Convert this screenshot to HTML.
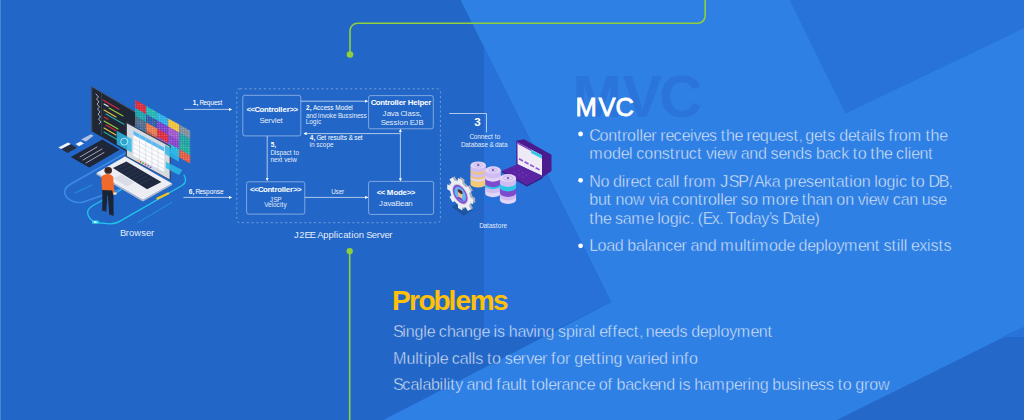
<!DOCTYPE html>
<html><head><meta charset="utf-8">
<style>
html,body{margin:0;padding:0;width:1024px;height:420px;overflow:hidden;background:#2e80e4;}
svg{display:block;font-family:"Liberation Sans",sans-serif;}
.w{fill:#fff}
.t{fill:#e4eefb}
</style></head>
<body>
<svg width="1024" height="420" viewBox="0 0 1024 420">
<!-- background -->
<rect x="0" y="0" width="1024" height="420" fill="#2e80e4"/>
<polygon points="0,0 460.6,0 611,302 383.5,420 0,420" fill="#2267c8"/>
<rect x="0" y="0" width="1" height="420" fill="#4a86d6"/>
<polygon points="484,47 611,302 541,336.5 484,336.5" fill="#2771d8"/>
<polygon points="789.5,0 1024,0 1024,28.3 845.5,113.5" fill="#2873da"/>
<polygon points="837,420 1024,327 1024,420" fill="#2468c9"/>
<polygon points="1002,337 1024,327 1024,337" fill="#2873da"/>

<!-- green lines -->
<g stroke="#8ed03c" stroke-width="1.6" fill="none">
<path d="M705.2,0 V15.8 a7.5,7.5 0 0 1 -7.5,7.5 H357.5 a7.5,7.5 0 0 0 -7.5,7.5 V54.5"/>
<path d="M349.7,251 V420"/>
</g>
<circle cx="350" cy="54.5" r="3.3" fill="#8ed03c"/>
<circle cx="349.7" cy="251.1" r="3.2" fill="#8ed03c"/>

<!--TEXT-->
<g font-size="59.4" font-weight="bold" fill="#2a74da"><text y="117.10" lengthAdjust="spacingAndGlyphs"><tspan x="572.60" textLength="49.91">M</tspan><tspan x="622.49" textLength="36.89">V</tspan><tspan x="659.37" textLength="37.31">C</tspan></text></g>
<g font-size="25.6" fill="#fff" stroke="#fff" stroke-width="0.8"><text y="115.80" lengthAdjust="spacingAndGlyphs"><tspan x="575.50" textLength="23.09">M</tspan><tspan x="598.58" textLength="16.88">V</tspan><tspan x="615.44" textLength="17.25">C</tspan></text></g>
<g fill="#fff">
<circle cx="580.6" cy="134.0" r="2.4"/>
<circle cx="580.6" cy="180.3" r="2.4"/>
<circle cx="580.6" cy="245.8" r="2.4"/>
</g>
<g fill="#ffffff" fill-opacity="0.87" stroke="#2e80e4" stroke-width="0.45" font-size="16.1">
<text y="140.50" lengthAdjust="spacingAndGlyphs"><tspan x="589.20" textLength="10.23">C</tspan><tspan x="599.42" textLength="8.84">o</tspan><tspan x="608.25" textLength="8.67">n</tspan><tspan x="616.90" textLength="5.09">t</tspan><tspan x="621.98" textLength="5.16">r</tspan><tspan x="627.12" textLength="8.84">o</tspan><tspan x="635.95" textLength="3.56">l</tspan><tspan x="639.50" textLength="3.55">l</tspan><tspan x="643.03" textLength="8.17">e</tspan><tspan x="651.18" textLength="5.31">r</tspan><tspan x="660.33" textLength="5.17">r</tspan><tspan x="665.48" textLength="8.16">e</tspan><tspan x="673.62" textLength="8.14">c</tspan><tspan x="681.75" textLength="8.16">e</tspan><tspan x="689.89" textLength="3.56">i</tspan><tspan x="693.43" textLength="7.48">v</tspan><tspan x="700.90" textLength="8.16">e</tspan><tspan x="709.04" textLength="8.00">s</tspan><tspan x="720.87" textLength="5.08">t</tspan><tspan x="725.93" textLength="8.67">h</tspan><tspan x="734.59" textLength="8.16">e</tspan><tspan x="746.58" textLength="5.17">r</tspan><tspan x="751.73" textLength="8.16">e</tspan><tspan x="759.87" textLength="8.81">q</tspan><tspan x="768.67" textLength="8.66">u</tspan><tspan x="777.31" textLength="8.17">e</tspan><tspan x="785.47" textLength="8.00">s</tspan><tspan x="793.45" textLength="5.08">t</tspan><tspan x="798.51" textLength="3.03">,</tspan><tspan x="805.37" textLength="8.77">g</tspan><tspan x="814.12" textLength="8.16">e</tspan><tspan x="822.26" textLength="5.08">t</tspan><tspan x="827.33" textLength="8.00">s</tspan><tspan x="839.15" textLength="8.77">d</tspan><tspan x="847.90" textLength="8.16">e</tspan><tspan x="856.04" textLength="5.08">t</tspan><tspan x="861.11" textLength="8.47">a</tspan><tspan x="869.56" textLength="3.55">i</tspan><tspan x="873.09" textLength="3.55">l</tspan><tspan x="876.64" textLength="7.98">s</tspan><tspan x="888.45" textLength="5.23">f</tspan><tspan x="893.67" textLength="5.17">r</tspan><tspan x="898.83" textLength="8.84">o</tspan><tspan x="907.65" textLength="13.98">m</tspan><tspan x="925.45" textLength="5.09">t</tspan><tspan x="930.53" textLength="8.66">h</tspan><tspan x="939.17" textLength="8.17">e</tspan></text>
<text y="159.20" lengthAdjust="spacingAndGlyphs"><tspan x="589.20" textLength="13.97">m</tspan><tspan x="603.15" textLength="8.84">o</tspan><tspan x="611.98" textLength="8.77">d</tspan><tspan x="620.73" textLength="8.17">e</tspan><tspan x="628.89" textLength="3.55">l</tspan><tspan x="636.26" textLength="8.12">c</tspan><tspan x="644.37" textLength="8.84">o</tspan><tspan x="653.20" textLength="8.69">n</tspan><tspan x="661.87" textLength="8.00">s</tspan><tspan x="669.86" textLength="5.08">t</tspan><tspan x="674.92" textLength="5.33">r</tspan><tspan x="680.23" textLength="8.66">u</tspan><tspan x="688.87" textLength="8.14">c</tspan><tspan x="697.00" textLength="5.08">t</tspan><tspan x="705.90" textLength="7.59">v</tspan><tspan x="713.48" textLength="3.55">i</tspan><tspan x="717.01" textLength="8.16">e</tspan><tspan x="725.15" textLength="11.91">w</tspan><tspan x="740.87" textLength="8.47">a</tspan><tspan x="749.33" textLength="8.67">n</tspan><tspan x="757.98" textLength="8.77">d</tspan><tspan x="770.58" textLength="8.00">s</tspan><tspan x="778.56" textLength="8.16">e</tspan><tspan x="786.70" textLength="8.67">n</tspan><tspan x="795.36" textLength="8.77">d</tspan><tspan x="804.11" textLength="8.00">s</tspan><tspan x="815.93" textLength="8.75">b</tspan><tspan x="824.67" textLength="8.45">a</tspan><tspan x="833.11" textLength="8.14">c</tspan><tspan x="841.23" textLength="7.73">k</tspan><tspan x="852.79" textLength="4.92">t</tspan><tspan x="857.70" textLength="8.84">o</tspan><tspan x="870.37" textLength="5.08">t</tspan><tspan x="875.43" textLength="8.67">h</tspan><tspan x="884.09" textLength="8.16">e</tspan><tspan x="896.08" textLength="8.12">c</tspan><tspan x="904.20" textLength="3.55">l</tspan><tspan x="907.73" textLength="3.55">i</tspan><tspan x="911.26" textLength="8.17">e</tspan><tspan x="919.42" textLength="8.67">n</tspan><tspan x="928.08" textLength="5.08">t</tspan></text>
<text y="186.50" lengthAdjust="spacingAndGlyphs"><tspan x="589.20" textLength="11.20">N</tspan><tspan x="600.39" textLength="8.84">o</tspan><tspan x="613.04" textLength="8.77">d</tspan><tspan x="621.79" textLength="3.56">i</tspan><tspan x="625.34" textLength="5.17">r</tspan><tspan x="630.50" textLength="8.16">e</tspan><tspan x="638.64" textLength="8.14">c</tspan><tspan x="646.76" textLength="5.08">t</tspan><tspan x="655.67" textLength="8.14">c</tspan><tspan x="663.79" textLength="8.45">a</tspan><tspan x="672.23" textLength="3.56">l</tspan><tspan x="675.78" textLength="3.55">l</tspan><tspan x="683.15" textLength="5.23">f</tspan><tspan x="688.37" textLength="5.17">r</tspan><tspan x="693.53" textLength="8.84">o</tspan><tspan x="702.36" textLength="13.97">m</tspan><tspan x="720.15" textLength="8.69">J</tspan><tspan x="728.83" textLength="9.36">S</tspan><tspan x="738.17" textLength="9.70">P</tspan><tspan x="748.86" textLength="6.88">/</tspan><tspan x="754.12" textLength="9.86">A</tspan><tspan x="763.97" textLength="7.73">k</tspan><tspan x="771.68" textLength="8.47">a</tspan><tspan x="783.97" textLength="8.75">p</tspan><tspan x="792.70" textLength="5.19">r</tspan><tspan x="797.87" textLength="8.16">e</tspan><tspan x="806.01" textLength="8.00">s</tspan><tspan x="814.00" textLength="8.16">e</tspan><tspan x="822.14" textLength="8.67">n</tspan><tspan x="830.79" textLength="5.08">t</tspan><tspan x="835.86" textLength="8.47">a</tspan><tspan x="844.31" textLength="5.08">t</tspan><tspan x="849.37" textLength="3.56">i</tspan><tspan x="852.92" textLength="8.84">o</tspan><tspan x="861.75" textLength="8.67">n</tspan><tspan x="874.23" textLength="3.56">l</tspan><tspan x="877.78" textLength="8.84">o</tspan><tspan x="886.61" textLength="8.75">g</tspan><tspan x="895.34" textLength="3.56">i</tspan><tspan x="898.89" textLength="8.14">c</tspan><tspan x="910.84" textLength="4.94">t</tspan><tspan x="915.76" textLength="8.84">o</tspan><tspan x="928.42" textLength="10.34">D</tspan><tspan x="938.75" textLength="9.67">B</tspan><tspan x="948.40" textLength="3.05">,</tspan></text>
<text y="205.20" lengthAdjust="spacingAndGlyphs"><tspan x="589.20" textLength="8.75">b</tspan><tspan x="597.93" textLength="8.66">u</tspan><tspan x="606.58" textLength="5.09">t</tspan><tspan x="615.48" textLength="8.67">n</tspan><tspan x="624.14" textLength="8.86">o</tspan><tspan x="632.98" textLength="11.89">w</tspan><tspan x="648.70" textLength="7.58">v</tspan><tspan x="656.26" textLength="3.56">i</tspan><tspan x="659.81" textLength="8.45">a</tspan><tspan x="672.09" textLength="8.14">c</tspan><tspan x="680.22" textLength="8.84">o</tspan><tspan x="689.04" textLength="8.67">n</tspan><tspan x="697.70" textLength="5.08">t</tspan><tspan x="702.76" textLength="5.17">r</tspan><tspan x="707.92" textLength="8.84">o</tspan><tspan x="716.75" textLength="3.55">l</tspan><tspan x="720.28" textLength="3.56">l</tspan><tspan x="723.83" textLength="8.16">e</tspan><tspan x="731.97" textLength="5.33">r</tspan><tspan x="741.11" textLength="8.00">s</tspan><tspan x="749.09" textLength="8.84">o</tspan><tspan x="761.76" textLength="13.98">m</tspan><tspan x="775.73" textLength="8.84">o</tspan><tspan x="784.56" textLength="5.17">r</tspan><tspan x="789.72" textLength="8.16">e</tspan><tspan x="801.70" textLength="5.08">t</tspan><tspan x="806.76" textLength="8.67">h</tspan><tspan x="815.42" textLength="8.45">a</tspan><tspan x="823.86" textLength="8.67">n</tspan><tspan x="836.36" textLength="8.84">o</tspan><tspan x="845.18" textLength="8.67">n</tspan><tspan x="857.68" textLength="7.59">v</tspan><tspan x="865.26" textLength="3.55">i</tspan><tspan x="868.79" textLength="8.16">e</tspan><tspan x="876.93" textLength="11.91">w</tspan><tspan x="892.65" textLength="8.14">c</tspan><tspan x="900.78" textLength="8.45">a</tspan><tspan x="909.22" textLength="8.69">n</tspan><tspan x="921.72" textLength="8.67">u</tspan><tspan x="930.37" textLength="8.00">s</tspan><tspan x="938.36" textLength="8.16">e</tspan></text>
<text y="223.90" lengthAdjust="spacingAndGlyphs"><tspan x="589.20" textLength="5.08">t</tspan><tspan x="594.26" textLength="8.67">h</tspan><tspan x="602.92" textLength="8.16">e</tspan><tspan x="614.89" textLength="8.00">s</tspan><tspan x="622.87" textLength="8.47">a</tspan><tspan x="631.33" textLength="13.98">m</tspan><tspan x="645.29" textLength="8.16">e</tspan><tspan x="657.26" textLength="3.56">l</tspan><tspan x="660.81" textLength="8.84">o</tspan><tspan x="669.64" textLength="8.75">g</tspan><tspan x="678.37" textLength="3.56">i</tspan><tspan x="681.92" textLength="8.14">c</tspan><tspan x="690.04" textLength="3.78">.</tspan><tspan x="697.64" textLength="5.05">(</tspan><tspan x="702.67" textLength="8.98">E</tspan><tspan x="711.64" textLength="7.67">x</tspan><tspan x="719.29" textLength="3.78">.</tspan><tspan x="726.59" textLength="8.67">T</tspan><tspan x="735.25" textLength="8.84">o</tspan><tspan x="744.08" textLength="8.77">d</tspan><tspan x="752.83" textLength="8.34">a</tspan><tspan x="761.15" textLength="7.62">y</tspan><tspan x="768.76" textLength="1.95">’</tspan><tspan x="770.70" textLength="8.00">s</tspan><tspan x="782.53" textLength="10.33">D</tspan><tspan x="792.84" textLength="8.47">a</tspan><tspan x="801.29" textLength="5.08">t</tspan><tspan x="806.36" textLength="8.16">e</tspan><tspan x="814.50" textLength="5.16">)</tspan></text>
<text y="251.20" lengthAdjust="spacingAndGlyphs"><tspan x="589.20" textLength="8.31">L</tspan><tspan x="597.50" textLength="8.84">o</tspan><tspan x="606.33" textLength="8.47">a</tspan><tspan x="614.78" textLength="8.77">d</tspan><tspan x="627.36" textLength="8.75">b</tspan><tspan x="636.09" textLength="8.47">a</tspan><tspan x="644.54" textLength="3.55">l</tspan><tspan x="648.08" textLength="8.47">a</tspan><tspan x="656.53" textLength="8.67">n</tspan><tspan x="665.18" textLength="8.14">c</tspan><tspan x="673.31" textLength="8.16">e</tspan><tspan x="681.45" textLength="5.31">r</tspan><tspan x="690.59" textLength="8.45">a</tspan><tspan x="699.03" textLength="8.69">n</tspan><tspan x="707.70" textLength="8.77">d</tspan><tspan x="720.28" textLength="13.98">m</tspan><tspan x="734.25" textLength="8.67">u</tspan><tspan x="742.90" textLength="3.55">l</tspan><tspan x="746.43" textLength="5.09">t</tspan><tspan x="751.51" textLength="3.55">i</tspan><tspan x="755.04" textLength="13.98">m</tspan><tspan x="769.01" textLength="8.84">o</tspan><tspan x="777.84" textLength="8.77">d</tspan><tspan x="786.59" textLength="8.16">e</tspan><tspan x="798.58" textLength="8.77">d</tspan><tspan x="807.33" textLength="8.16">e</tspan><tspan x="815.47" textLength="8.75">p</tspan><tspan x="824.20" textLength="3.56">l</tspan><tspan x="827.75" textLength="8.72">o</tspan><tspan x="836.45" textLength="7.52">y</tspan><tspan x="843.95" textLength="13.98">m</tspan><tspan x="857.92" textLength="8.16">e</tspan><tspan x="866.06" textLength="8.67">n</tspan><tspan x="874.72" textLength="5.08">t</tspan><tspan x="883.62" textLength="8.00">s</tspan><tspan x="891.61" textLength="5.08">t</tspan><tspan x="896.67" textLength="3.56">i</tspan><tspan x="900.22" textLength="3.55">l</tspan><tspan x="903.75" textLength="3.55">l</tspan><tspan x="911.12" textLength="8.16">e</tspan><tspan x="919.26" textLength="7.69">x</tspan><tspan x="926.93" textLength="3.55">i</tspan><tspan x="930.47" textLength="8.00">s</tspan><tspan x="938.45" textLength="5.09">t</tspan><tspan x="943.53" textLength="7.98">s</tspan></text>
</g>
<g font-size="28" font-weight="bold" fill="#ffc107"><text y="310.20" lengthAdjust="spacingAndGlyphs"><tspan x="392.00" textLength="17.14">P</tspan><tspan x="409.12" textLength="9.36">r</tspan><tspan x="418.47" textLength="15.03">o</tspan><tspan x="433.48" textLength="14.97">b</tspan><tspan x="448.44" textLength="7.06">l</tspan><tspan x="455.48" textLength="14.38">e</tspan><tspan x="469.84" textLength="23.05">m</tspan><tspan x="492.88" textLength="13.67">s</tspan></text></g>
<g fill="#ffffff" fill-opacity="0.87" stroke-width="0.45" font-size="16.1">
<text y="337.10" lengthAdjust="spacingAndGlyphs"><tspan x="393.00" textLength="9.34" stroke="#2267c8">S</tspan><tspan x="402.33" textLength="3.55" stroke="#2267c8">i</tspan><tspan x="405.86" textLength="8.69" stroke="#2267c8">n</tspan><tspan x="414.53" textLength="8.75" stroke="#2267c8">g</tspan><tspan x="423.27" textLength="3.56" stroke="#2267c8">l</tspan><tspan x="426.81" textLength="8.16" stroke="#2267c8">e</tspan><tspan x="438.78" textLength="8.14" stroke="#2267c8">c</tspan><tspan x="446.91" textLength="8.67" stroke="#2267c8">h</tspan><tspan x="455.56" textLength="8.45" stroke="#2267c8">a</tspan><tspan x="464.00" textLength="8.69" stroke="#2267c8">n</tspan><tspan x="472.67" textLength="8.75" stroke="#2267c8">g</tspan><tspan x="481.41" textLength="8.16" stroke="#2771d8">e</tspan><tspan x="493.39" textLength="3.55" stroke="#2771d8">i</tspan><tspan x="496.92" textLength="8.00" stroke="#2771d8">s</tspan><tspan x="508.75" textLength="8.67" stroke="#2771d8">h</tspan><tspan x="517.41" textLength="8.34" stroke="#2771d8">a</tspan><tspan x="525.73" textLength="7.58" stroke="#2771d8">v</tspan><tspan x="533.30" textLength="3.56" stroke="#2771d8">i</tspan><tspan x="536.84" textLength="8.67" stroke="#2771d8">n</tspan><tspan x="545.50" textLength="8.77" stroke="#2267c8">g</tspan><tspan x="558.08" textLength="8.00" stroke="#2e80e4">s</tspan><tspan x="566.06" textLength="8.75" stroke="#2e80e4">p</tspan><tspan x="574.80" textLength="3.56" stroke="#2e80e4">i</tspan><tspan x="578.34" textLength="5.02" stroke="#2e80e4">r</tspan><tspan x="583.34" textLength="8.45" stroke="#2e80e4">a</tspan><tspan x="591.78" textLength="3.55" stroke="#2e80e4">l</tspan><tspan x="599.16" textLength="8.16" stroke="#2e80e4">e</tspan><tspan x="607.30" textLength="5.23" stroke="#2e80e4">f</tspan><tspan x="612.52" textLength="5.06" stroke="#2e80e4">f</tspan><tspan x="617.56" textLength="8.16" stroke="#2e80e4">e</tspan><tspan x="625.70" textLength="8.14" stroke="#2e80e4">c</tspan><tspan x="633.83" textLength="5.08" stroke="#2e80e4">t</tspan><tspan x="638.89" textLength="3.05" stroke="#2e80e4">,</tspan><tspan x="645.75" textLength="8.67" stroke="#2e80e4">n</tspan><tspan x="654.41" textLength="8.17" stroke="#2e80e4">e</tspan><tspan x="662.56" textLength="8.16" stroke="#2e80e4">e</tspan><tspan x="670.70" textLength="8.77" stroke="#2e80e4">d</tspan><tspan x="679.45" textLength="8.00" stroke="#2e80e4">s</tspan><tspan x="691.27" textLength="8.78" stroke="#2e80e4">d</tspan><tspan x="700.03" textLength="8.16" stroke="#2e80e4">e</tspan><tspan x="708.17" textLength="8.75" stroke="#2e80e4">p</tspan><tspan x="716.91" textLength="3.55" stroke="#2e80e4">l</tspan><tspan x="720.44" textLength="8.73" stroke="#2e80e4">o</tspan><tspan x="729.16" textLength="7.50" stroke="#2e80e4">y</tspan><tspan x="736.64" textLength="13.98" stroke="#2e80e4">m</tspan><tspan x="750.61" textLength="8.16" stroke="#2e80e4">e</tspan><tspan x="758.75" textLength="8.69" stroke="#2e80e4">n</tspan><tspan x="767.42" textLength="5.08" stroke="#2e80e4">t</tspan></text>
<text y="363.60" lengthAdjust="spacingAndGlyphs"><tspan x="393.00" textLength="13.64" stroke="#2267c8">M</tspan><tspan x="406.62" textLength="8.66" stroke="#2267c8">u</tspan><tspan x="415.27" textLength="3.56" stroke="#2267c8">l</tspan><tspan x="418.81" textLength="5.08" stroke="#2267c8">t</tspan><tspan x="423.88" textLength="3.56" stroke="#2267c8">i</tspan><tspan x="427.42" textLength="8.75" stroke="#2267c8">p</tspan><tspan x="436.16" textLength="3.55" stroke="#2267c8">l</tspan><tspan x="439.69" textLength="8.16" stroke="#2267c8">e</tspan><tspan x="451.67" textLength="8.14" stroke="#2267c8">c</tspan><tspan x="459.80" textLength="8.45" stroke="#2267c8">a</tspan><tspan x="468.23" textLength="3.55" stroke="#2267c8">l</tspan><tspan x="471.77" textLength="3.56" stroke="#2267c8">l</tspan><tspan x="475.31" textLength="8.00" stroke="#2267c8">s</tspan><tspan x="487.12" textLength="4.94" stroke="#2267c8">t</tspan><tspan x="492.05" textLength="8.84" stroke="#2267c8">o</tspan><tspan x="504.72" textLength="7.98" stroke="#2e80e4">s</tspan><tspan x="512.69" textLength="8.17" stroke="#2e80e4">e</tspan><tspan x="520.84" textLength="5.45" stroke="#2e80e4">r</tspan><tspan x="526.28" textLength="7.48" stroke="#2e80e4">v</tspan><tspan x="533.77" textLength="8.16" stroke="#2e80e4">e</tspan><tspan x="541.91" textLength="5.31" stroke="#2e80e4">r</tspan><tspan x="551.05" textLength="5.23" stroke="#2e80e4">f</tspan><tspan x="556.27" textLength="8.84" stroke="#2e80e4">o</tspan><tspan x="565.09" textLength="5.33" stroke="#2e80e4">r</tspan><tspan x="574.23" textLength="8.77" stroke="#2e80e4">g</tspan><tspan x="582.98" textLength="8.16" stroke="#2e80e4">e</tspan><tspan x="591.12" textLength="5.09" stroke="#2e80e4">t</tspan><tspan x="596.20" textLength="5.08" stroke="#2e80e4">t</tspan><tspan x="601.27" textLength="3.55" stroke="#2e80e4">i</tspan><tspan x="604.80" textLength="8.69" stroke="#2e80e4">n</tspan><tspan x="613.47" textLength="8.75" stroke="#2e80e4">g</tspan><tspan x="626.05" textLength="7.47" stroke="#2e80e4">v</tspan><tspan x="633.50" textLength="8.47" stroke="#2e80e4">a</tspan><tspan x="641.95" textLength="5.31" stroke="#2e80e4">r</tspan><tspan x="647.25" textLength="3.56" stroke="#2e80e4">i</tspan><tspan x="650.80" textLength="8.16" stroke="#2e80e4">e</tspan><tspan x="658.94" textLength="8.77" stroke="#2e80e4">d</tspan><tspan x="671.53" textLength="3.55" stroke="#2e80e4">i</tspan><tspan x="675.06" textLength="8.67" stroke="#2e80e4">n</tspan><tspan x="683.72" textLength="5.23" stroke="#2e80e4">f</tspan><tspan x="688.94" textLength="8.84" stroke="#2e80e4">o</tspan></text>
<text y="390.10" lengthAdjust="spacingAndGlyphs"><tspan x="393.00" textLength="9.34" stroke="#2267c8">S</tspan><tspan x="402.33" textLength="8.14" stroke="#2267c8">c</tspan><tspan x="410.45" textLength="8.45" stroke="#2267c8">a</tspan><tspan x="418.89" textLength="3.56" stroke="#2267c8">l</tspan><tspan x="422.44" textLength="8.45" stroke="#2267c8">a</tspan><tspan x="430.88" textLength="8.75" stroke="#2267c8">b</tspan><tspan x="439.61" textLength="3.56" stroke="#2267c8">i</tspan><tspan x="443.16" textLength="3.55" stroke="#2267c8">l</tspan><tspan x="446.69" textLength="3.55" stroke="#2267c8">i</tspan><tspan x="450.22" textLength="5.09" stroke="#2e80e4">t</tspan><tspan x="455.30" textLength="7.50" stroke="#2e80e4">y</tspan><tspan x="466.62" textLength="8.45" stroke="#2e80e4">a</tspan><tspan x="475.06" textLength="8.67" stroke="#2e80e4">n</tspan><tspan x="483.72" textLength="8.77" stroke="#2e80e4">d</tspan><tspan x="496.31" textLength="5.23" stroke="#2e80e4">f</tspan><tspan x="501.53" textLength="8.47" stroke="#2e80e4">a</tspan><tspan x="509.98" textLength="8.66" stroke="#2e80e4">u</tspan><tspan x="518.62" textLength="3.56" stroke="#2e80e4">l</tspan><tspan x="522.17" textLength="5.08" stroke="#2e80e4">t</tspan><tspan x="531.08" textLength="4.92" stroke="#2e80e4">t</tspan><tspan x="535.98" textLength="8.84" stroke="#2e80e4">o</tspan><tspan x="544.81" textLength="3.56" stroke="#2e80e4">l</tspan><tspan x="548.36" textLength="8.16" stroke="#2e80e4">e</tspan><tspan x="556.50" textLength="5.02" stroke="#2e80e4">r</tspan><tspan x="561.50" textLength="8.45" stroke="#2e80e4">a</tspan><tspan x="569.94" textLength="8.67" stroke="#2e80e4">n</tspan><tspan x="578.59" textLength="8.14" stroke="#2e80e4">c</tspan><tspan x="586.72" textLength="8.16" stroke="#2e80e4">e</tspan><tspan x="598.70" textLength="8.84" stroke="#2e80e4">o</tspan><tspan x="607.53" textLength="5.23" stroke="#2e80e4">f</tspan><tspan x="616.59" textLength="8.75" stroke="#2e80e4">b</tspan><tspan x="625.33" textLength="8.45" stroke="#2e80e4">a</tspan><tspan x="633.77" textLength="8.14" stroke="#2e80e4">c</tspan><tspan x="641.89" textLength="7.58" stroke="#2e80e4">k</tspan><tspan x="649.45" textLength="8.17" stroke="#2e80e4">e</tspan><tspan x="657.61" textLength="8.67" stroke="#2e80e4">n</tspan><tspan x="666.27" textLength="8.77" stroke="#2e80e4">d</tspan><tspan x="678.86" textLength="3.55" stroke="#2e80e4">i</tspan><tspan x="682.39" textLength="8.00" stroke="#2e80e4">s</tspan><tspan x="694.22" textLength="8.66" stroke="#2e80e4">h</tspan><tspan x="702.86" textLength="8.47" stroke="#2e80e4">a</tspan><tspan x="711.31" textLength="13.97" stroke="#2e80e4">m</tspan><tspan x="725.27" textLength="8.77" stroke="#2e80e4">p</tspan><tspan x="734.02" textLength="8.16" stroke="#2e80e4">e</tspan><tspan x="742.16" textLength="5.31" stroke="#2e80e4">r</tspan><tspan x="747.45" textLength="3.56" stroke="#2e80e4">i</tspan><tspan x="751.00" textLength="8.67" stroke="#2e80e4">n</tspan><tspan x="759.66" textLength="8.77" stroke="#2e80e4">g</tspan><tspan x="772.23" textLength="8.75" stroke="#2e80e4">b</tspan><tspan x="780.97" textLength="8.67" stroke="#2e80e4">u</tspan><tspan x="789.62" textLength="8.00" stroke="#2e80e4">s</tspan><tspan x="797.61" textLength="3.55" stroke="#2e80e4">i</tspan><tspan x="801.14" textLength="8.69" stroke="#2e80e4">n</tspan><tspan x="809.81" textLength="8.16" stroke="#2e80e4">e</tspan><tspan x="817.95" textLength="8.00" stroke="#2e80e4">s</tspan><tspan x="825.94" textLength="8.00" stroke="#2e80e4">s</tspan><tspan x="837.75" textLength="4.94" stroke="#2e80e4">t</tspan><tspan x="842.67" textLength="8.84" stroke="#2e80e4">o</tspan><tspan x="855.33" textLength="8.77" stroke="#2e80e4">g</tspan><tspan x="864.08" textLength="5.17" stroke="#2e80e4">r</tspan><tspan x="869.23" textLength="8.84" stroke="#2e80e4">o</tspan><tspan x="878.06" textLength="11.89" stroke="#2e80e4">w</tspan></text>
</g>
<!--/TEXT-->

<!-- diagram -->
<defs>
<pattern id="dots" width="2.4" height="2.4" patternUnits="userSpaceOnUse"><circle cx="1.2" cy="1.2" r="0.55" fill="#fff" fill-opacity="0.35"/></pattern>
<marker id="ar" viewBox="0 0 6 6" refX="5" refY="3" markerWidth="4" markerHeight="4" orient="auto-start-reverse"><path d="M0,0 L6,3 L0,6 z" fill="#fff"/></marker>
</defs>
<rect x="236.8" y="88.8" width="203.6" height="133.9" rx="3" fill="none" stroke="#fff" stroke-opacity="0.38" stroke-width="0.9" stroke-dasharray="2.2 2.6"/>
<g fill="none" stroke="#fff" stroke-opacity="0.5" stroke-width="0.85">
<rect x="242.8" y="95.3" width="58" height="40.6" rx="2"/>
<rect x="368.6" y="95.6" width="64.7" height="33.2" rx="2"/>
<rect x="246.6" y="181.8" width="58.2" height="32.3" rx="2"/>
<rect x="368.6" y="181.4" width="65" height="33" rx="2"/>
</g>
<g stroke="#fff" stroke-opacity="0.8" stroke-width="0.8" fill="none">
<path d="M184,109.4 H231.5" marker-end="url(#ar)"/>
<path d="M183.4,197.4 H231.5" marker-end="url(#ar)"/>
<path d="M300.8,101.2 H367.5" marker-end="url(#ar)"/>
<path d="M400.4,133.6 H304" marker-end="url(#ar)"/>
<path d="M400.4,133.6 V129.5" marker-end="url(#ar)"/>
<path d="M400.4,133.6 V180.8" marker-end="url(#ar)"/>
<path d="M267.2,136 V180.5" marker-end="url(#ar)"/>
<path d="M304.8,197.4 H367.8" marker-end="url(#ar)"/>
<path d="M449.3,113.5 H486.5 V132.5"/>
</g>
<!--DTEXT-->
<g fill="#fff">
<text y="104.80" font-size="6.46" lengthAdjust="spacingAndGlyphs"><tspan x="192.79" textLength="3.64" font-weight="bold">1</tspan><tspan x="196.43" textLength="1.56" font-weight="bold">,</tspan><tspan x="199.57" textLength="3.91">R</tspan><tspan x="203.49" textLength="3.37">e</tspan><tspan x="206.85" textLength="3.61">q</tspan><tspan x="210.46" textLength="3.50">u</tspan><tspan x="213.96" textLength="3.37">e</tspan><tspan x="217.33" textLength="3.28">s</tspan><tspan x="220.61" textLength="2.08">t</tspan></text>
<text y="193.80" font-size="6.46" lengthAdjust="spacingAndGlyphs"><tspan x="188.78" textLength="3.64" font-weight="bold">6</tspan><tspan x="192.42" textLength="1.56" font-weight="bold">,</tspan><tspan x="195.56" textLength="3.91">R</tspan><tspan x="199.48" textLength="3.37">e</tspan><tspan x="202.84" textLength="3.28">s</tspan><tspan x="206.12" textLength="3.57">p</tspan><tspan x="209.69" textLength="3.62">o</tspan><tspan x="213.31" textLength="3.51">n</tspan><tspan x="216.81" textLength="3.28">s</tspan><tspan x="220.09" textLength="3.37">e</tspan></text>
<text y="110.00" font-size="6.46" lengthAdjust="spacingAndGlyphs"><tspan x="306.11" textLength="3.64" font-weight="bold">2</tspan><tspan x="309.75" textLength="1.56" font-weight="bold">,</tspan><tspan x="312.89" textLength="4.14">A</tspan><tspan x="317.03" textLength="3.32">c</tspan><tspan x="320.36" textLength="3.32">c</tspan><tspan x="323.68" textLength="3.37">e</tspan><tspan x="327.05" textLength="3.28">s</tspan><tspan x="330.32" textLength="3.28">s</tspan><tspan x="335.18" textLength="5.54">M</tspan><tspan x="340.72" textLength="3.62">o</tspan><tspan x="344.34" textLength="3.58">d</tspan><tspan x="347.92" textLength="3.37">e</tspan><tspan x="351.29" textLength="1.54">l</tspan></text>
<text y="117.50" font-size="6.46" lengthAdjust="spacingAndGlyphs" fill-opacity="0.9"><tspan x="305.98" textLength="3.45">a</tspan><tspan x="309.44" textLength="3.51">n</tspan><tspan x="312.94" textLength="3.58">d</tspan><tspan x="318.10" textLength="1.54">i</tspan><tspan x="319.64" textLength="3.51">n</tspan><tspan x="323.15" textLength="3.03">v</tspan><tspan x="326.18" textLength="3.62">o</tspan><tspan x="329.80" textLength="3.16">k</tspan><tspan x="332.96" textLength="3.37">e</tspan><tspan x="337.90" textLength="3.96">B</tspan><tspan x="341.86" textLength="3.50">u</tspan><tspan x="345.36" textLength="3.28">s</tspan><tspan x="348.63" textLength="3.28">s</tspan><tspan x="351.91" textLength="1.54">i</tspan><tspan x="353.45" textLength="3.51">n</tspan><tspan x="356.96" textLength="3.37">e</tspan><tspan x="360.33" textLength="3.28">s</tspan><tspan x="363.61" textLength="3.28">s</tspan></text>
<text y="124.30" font-size="6.46" lengthAdjust="spacingAndGlyphs" fill-opacity="0.9"><tspan x="305.79" textLength="3.42">L</tspan><tspan x="309.21" textLength="3.62">o</tspan><tspan x="312.83" textLength="3.57">g</tspan><tspan x="316.40" textLength="1.54">i</tspan><tspan x="317.94" textLength="3.32">c</tspan></text>
<text y="139.90" font-size="6.46" lengthAdjust="spacingAndGlyphs"><tspan x="309.81" textLength="3.64" font-weight="bold">4</tspan><tspan x="313.45" textLength="1.56" font-weight="bold">,</tspan><tspan x="316.59" textLength="4.33">G</tspan><tspan x="320.92" textLength="3.37">e</tspan><tspan x="324.28" textLength="2.08">t</tspan><tspan x="327.93" textLength="2.09">r</tspan><tspan x="330.03" textLength="3.37">e</tspan><tspan x="333.40" textLength="3.28">s</tspan><tspan x="336.67" textLength="3.50">u</tspan><tspan x="340.17" textLength="1.54">l</tspan><tspan x="341.72" textLength="2.08">t</tspan><tspan x="343.79" textLength="3.28">s</tspan><tspan x="348.65" textLength="3.95">&amp;</tspan><tspan x="354.17" textLength="3.28">s</tspan><tspan x="357.45" textLength="3.37">e</tspan><tspan x="360.82" textLength="2.08">t</tspan></text>
<text y="146.70" font-size="6.46" lengthAdjust="spacingAndGlyphs" fill-opacity="0.9"><tspan x="309.56" textLength="1.54">i</tspan><tspan x="311.10" textLength="3.51">n</tspan><tspan x="316.18" textLength="3.28">s</tspan><tspan x="319.46" textLength="3.32">c</tspan><tspan x="322.78" textLength="3.62">o</tspan><tspan x="326.40" textLength="3.57">p</tspan><tspan x="329.97" textLength="3.37">e</tspan></text>
<text y="147.00" font-size="6.35" lengthAdjust="spacingAndGlyphs"><tspan x="270.68" textLength="3.64" font-weight="bold">5</tspan><tspan x="274.32" textLength="1.56" font-weight="bold">,</tspan></text>
<text y="154.70" font-size="6.46" lengthAdjust="spacingAndGlyphs" fill-opacity="0.9"><tspan x="270.49" textLength="4.17">D</tspan><tspan x="274.66" textLength="1.54">i</tspan><tspan x="276.20" textLength="3.28">s</tspan><tspan x="279.48" textLength="3.57">p</tspan><tspan x="283.05" textLength="3.45">a</tspan><tspan x="286.50" textLength="3.32">c</tspan><tspan x="289.82" textLength="2.08">t</tspan><tspan x="293.48" textLength="2.02">t</tspan><tspan x="295.49" textLength="3.62">o</tspan></text>
<text y="161.80" font-size="6.46" lengthAdjust="spacingAndGlyphs" fill-opacity="0.9"><tspan x="270.56" textLength="3.51">n</tspan><tspan x="274.06" textLength="3.37">e</tspan><tspan x="277.43" textLength="3.15">x</tspan><tspan x="280.58" textLength="2.08">t</tspan><tspan x="284.23" textLength="3.04">v</tspan><tspan x="287.27" textLength="3.37">e</tspan><tspan x="290.63" textLength="1.54">i</tspan><tspan x="292.18" textLength="4.77">w</tspan></text>
<text y="193.70" font-size="6.46" lengthAdjust="spacingAndGlyphs" fill-opacity="0.9"><tspan x="331.36" textLength="4.12">U</tspan><tspan x="335.47" textLength="3.28">s</tspan><tspan x="338.75" textLength="3.37">e</tspan><tspan x="342.12" textLength="2.15">r</tspan></text>
<text y="138.90" font-size="6.46" lengthAdjust="spacingAndGlyphs" fill-opacity="0.9"><tspan x="469.57" textLength="4.13">C</tspan><tspan x="473.70" textLength="3.62">o</tspan><tspan x="477.32" textLength="3.51">n</tspan><tspan x="480.83" textLength="3.51">n</tspan><tspan x="484.34" textLength="3.37">e</tspan><tspan x="487.70" textLength="3.32">c</tspan><tspan x="491.03" textLength="2.08">t</tspan><tspan x="494.68" textLength="2.02">t</tspan><tspan x="496.70" textLength="3.62">o</tspan></text>
<text y="146.60" font-size="6.46" lengthAdjust="spacingAndGlyphs" fill-opacity="0.9"><tspan x="461.01" textLength="4.17">D</tspan><tspan x="465.18" textLength="3.45">a</tspan><tspan x="468.63" textLength="2.08">t</tspan><tspan x="470.71" textLength="3.45">a</tspan><tspan x="474.17" textLength="3.57">b</tspan><tspan x="477.73" textLength="3.45">a</tspan><tspan x="481.19" textLength="3.28">s</tspan><tspan x="484.46" textLength="3.37">e</tspan><tspan x="489.41" textLength="3.95">&amp;</tspan><tspan x="494.93" textLength="3.58">d</tspan><tspan x="498.51" textLength="3.45">a</tspan><tspan x="501.97" textLength="2.08">t</tspan><tspan x="504.04" textLength="3.45">a</tspan></text>
<text y="227.70" font-size="6.46" lengthAdjust="spacingAndGlyphs" fill-opacity="0.9"><tspan x="479.34" textLength="4.17">D</tspan><tspan x="483.51" textLength="3.45">a</tspan><tspan x="486.96" textLength="2.08">t</tspan><tspan x="489.04" textLength="3.45">a</tspan><tspan x="492.50" textLength="3.28">s</tspan><tspan x="495.77" textLength="2.02">t</tspan><tspan x="497.79" textLength="3.62">o</tspan><tspan x="501.41" textLength="2.09">r</tspan><tspan x="503.50" textLength="3.37">e</tspan></text>
<text y="112.30" font-size="7.85" lengthAdjust="spacingAndGlyphs"><tspan x="246.45" textLength="4.00" font-weight="bold">&lt;</tspan><tspan x="250.45" textLength="4.00" font-weight="bold">&lt;</tspan><tspan x="254.45" textLength="5.14" font-weight="bold">C</tspan><tspan x="259.59" textLength="4.43" font-weight="bold">o</tspan><tspan x="264.02" textLength="4.40" font-weight="bold">n</tspan><tspan x="268.42" textLength="2.66" font-weight="bold">t</tspan><tspan x="271.08" textLength="2.76" font-weight="bold">r</tspan><tspan x="273.83" textLength="4.43" font-weight="bold">o</tspan><tspan x="278.26" textLength="2.08" font-weight="bold">l</tspan><tspan x="280.34" textLength="2.08" font-weight="bold">l</tspan><tspan x="282.42" textLength="4.24" font-weight="bold">e</tspan><tspan x="286.66" textLength="2.88" font-weight="bold">r</tspan><tspan x="289.53" textLength="4.05" font-weight="bold">&gt;</tspan><tspan x="293.58" textLength="4.05" font-weight="bold">&gt;</tspan></text>
<text y="192.40" font-size="7.85" lengthAdjust="spacingAndGlyphs"><tspan x="249.90" textLength="4.00" font-weight="bold">&lt;</tspan><tspan x="253.90" textLength="4.00" font-weight="bold">&lt;</tspan><tspan x="257.90" textLength="5.14" font-weight="bold">C</tspan><tspan x="263.04" textLength="4.43" font-weight="bold">o</tspan><tspan x="267.47" textLength="4.40" font-weight="bold">n</tspan><tspan x="271.87" textLength="2.66" font-weight="bold">t</tspan><tspan x="274.53" textLength="2.76" font-weight="bold">r</tspan><tspan x="277.28" textLength="4.43" font-weight="bold">o</tspan><tspan x="281.71" textLength="2.08" font-weight="bold">l</tspan><tspan x="283.79" textLength="2.08" font-weight="bold">l</tspan><tspan x="285.87" textLength="4.24" font-weight="bold">e</tspan><tspan x="290.11" textLength="2.88" font-weight="bold">r</tspan><tspan x="292.98" textLength="4.05" font-weight="bold">&gt;</tspan><tspan x="297.03" textLength="4.05" font-weight="bold">&gt;</tspan></text>
<text y="195.00" font-size="7.85" lengthAdjust="spacingAndGlyphs"><tspan x="376.74" textLength="4.00" font-weight="bold">&lt;</tspan><tspan x="380.74" textLength="4.00" font-weight="bold">&lt;</tspan><tspan x="386.70" textLength="6.87" font-weight="bold">M</tspan><tspan x="393.57" textLength="4.43" font-weight="bold">o</tspan><tspan x="398.00" textLength="4.42" font-weight="bold">d</tspan><tspan x="402.42" textLength="4.24" font-weight="bold">e</tspan><tspan x="406.66" textLength="4.05" font-weight="bold">&gt;</tspan><tspan x="410.71" textLength="4.05" font-weight="bold">&gt;</tspan></text>
<text y="105.30" font-size="7.85" lengthAdjust="spacingAndGlyphs"><tspan x="370.66" textLength="5.14" font-weight="bold">C</tspan><tspan x="375.80" textLength="4.43" font-weight="bold">o</tspan><tspan x="380.23" textLength="4.40" font-weight="bold">n</tspan><tspan x="384.63" textLength="2.66" font-weight="bold">t</tspan><tspan x="387.28" textLength="2.76" font-weight="bold">r</tspan><tspan x="390.04" textLength="4.43" font-weight="bold">o</tspan><tspan x="394.47" textLength="2.08" font-weight="bold">l</tspan><tspan x="396.55" textLength="2.08" font-weight="bold">l</tspan><tspan x="398.63" textLength="4.24" font-weight="bold">e</tspan><tspan x="402.86" textLength="2.88" font-weight="bold">r</tspan><tspan x="407.69" textLength="5.54" font-weight="bold">H</tspan><tspan x="413.23" textLength="4.24" font-weight="bold">e</tspan><tspan x="417.47" textLength="2.08" font-weight="bold">l</tspan><tspan x="419.55" textLength="4.42" font-weight="bold">p</tspan><tspan x="423.96" textLength="4.24" font-weight="bold">e</tspan><tspan x="428.21" textLength="2.88" font-weight="bold">r</tspan></text>
<text y="126.00" font-size="11.60" lengthAdjust="spacingAndGlyphs"><tspan x="474.35" textLength="6.66" font-weight="bold">3</tspan></text>
<text y="123.00" font-size="7.83" lengthAdjust="spacingAndGlyphs" fill-opacity="0.9"><tspan x="259.57" textLength="4.57">S</tspan><tspan x="264.14" textLength="4.08">e</tspan><tspan x="268.22" textLength="2.68">r</tspan><tspan x="270.90" textLength="3.73">v</tspan><tspan x="274.63" textLength="1.87">l</tspan><tspan x="276.50" textLength="4.08">e</tspan><tspan x="280.59" textLength="2.52">t</tspan></text>
<text y="115.80" font-size="7.83" lengthAdjust="spacingAndGlyphs" fill-opacity="0.9"><tspan x="382.45" textLength="4.25">J</tspan><tspan x="386.70" textLength="4.13">a</tspan><tspan x="390.83" textLength="3.67">v</tspan><tspan x="394.50" textLength="4.19">a</tspan><tspan x="400.60" textLength="5.01">C</tspan><tspan x="405.61" textLength="1.87">l</tspan><tspan x="407.49" textLength="4.19">a</tspan><tspan x="411.67" textLength="3.98">s</tspan><tspan x="415.65" textLength="3.98">s</tspan><tspan x="419.62" textLength="1.52">,</tspan></text>
<text y="124.70" font-size="7.83" lengthAdjust="spacingAndGlyphs" fill-opacity="0.9"><tspan x="380.82" textLength="4.57">S</tspan><tspan x="385.40" textLength="4.08">e</tspan><tspan x="389.48" textLength="3.98">s</tspan><tspan x="393.45" textLength="3.98">s</tspan><tspan x="397.43" textLength="1.87">i</tspan><tspan x="399.30" textLength="4.39">o</tspan><tspan x="403.69" textLength="4.25">n</tspan><tspan x="409.85" textLength="4.38">E</tspan><tspan x="414.23" textLength="4.25">J</tspan><tspan x="418.48" textLength="4.80">B</tspan></text>
<text y="201.90" font-size="6.46" lengthAdjust="spacingAndGlyphs" fill-opacity="0.9"><tspan x="269.86" textLength="3.50">J</tspan><tspan x="273.37" textLength="3.77">S</tspan><tspan x="277.14" textLength="4.01">P</tspan></text>
<text y="207.40" font-size="6.46" lengthAdjust="spacingAndGlyphs" fill-opacity="0.9"><tspan x="264.14" textLength="3.91">V</tspan><tspan x="268.05" textLength="3.37">e</tspan><tspan x="271.42" textLength="1.54">l</tspan><tspan x="272.96" textLength="3.62">o</tspan><tspan x="276.58" textLength="3.32">c</tspan><tspan x="279.91" textLength="1.54">i</tspan><tspan x="281.45" textLength="2.08">t</tspan><tspan x="283.53" textLength="3.01">y</tspan></text>
<text y="205.70" font-size="7.83" lengthAdjust="spacingAndGlyphs" fill-opacity="0.9"><tspan x="379.06" textLength="4.25">J</tspan><tspan x="383.30" textLength="4.13">a</tspan><tspan x="387.44" textLength="3.67">v</tspan><tspan x="391.11" textLength="4.19">a</tspan><tspan x="395.30" textLength="4.80">B</tspan><tspan x="400.10" textLength="4.08">e</tspan><tspan x="404.18" textLength="4.19">a</tspan><tspan x="408.37" textLength="4.25">n</tspan></text>
<text y="237.60" font-size="9.46" lengthAdjust="spacingAndGlyphs" fill-opacity="0.9"><tspan x="294.06" textLength="5.13">J</tspan><tspan x="299.19" textLength="5.23">2</tspan><tspan x="304.41" textLength="5.29">E</tspan><tspan x="309.70" textLength="5.29">E</tspan><tspan x="317.29" textLength="6.07">A</tspan><tspan x="323.36" textLength="5.22">p</tspan><tspan x="328.58" textLength="5.22">p</tspan><tspan x="333.80" textLength="2.26">l</tspan><tspan x="336.06" textLength="2.26">i</tspan><tspan x="338.33" textLength="4.87">c</tspan><tspan x="343.19" textLength="5.06">a</tspan><tspan x="348.25" textLength="3.04">t</tspan><tspan x="351.30" textLength="2.26">i</tspan><tspan x="353.56" textLength="5.31">o</tspan><tspan x="358.86" textLength="5.14">n</tspan><tspan x="366.30" textLength="5.52">S</tspan><tspan x="371.82" textLength="4.93">e</tspan><tspan x="376.76" textLength="3.23">r</tspan><tspan x="379.99" textLength="4.45">v</tspan><tspan x="384.44" textLength="4.93">e</tspan><tspan x="389.37" textLength="3.15">r</tspan></text>
<text y="235.60" font-size="9.46" lengthAdjust="spacingAndGlyphs" fill-opacity="0.9"><tspan x="120.06" textLength="5.80">B</tspan><tspan x="125.85" textLength="3.06">r</tspan><tspan x="128.91" textLength="5.31">o</tspan><tspan x="134.21" textLength="6.99">w</tspan><tspan x="141.20" textLength="4.80">s</tspan><tspan x="146.00" textLength="4.93">e</tspan><tspan x="150.93" textLength="3.15">r</tspan></text>
</g>
<!--/DTEXT-->

<!-- browser illustration -->
<g id="browser">
<!-- paths on floor -->
<g fill="none" stroke-linecap="round">
<path d="M125.7,153 L70,184.5 Q61,190.5 67,197.5 Q72,203 82,202.5 L121,189" stroke="#3f8fe4" stroke-width="1.6" opacity="0.9"/>
<path d="M121,190 L93,205.5 Q86,209.5 88,215 Q90,220 95.5,222.5 L110,223.8 Q116,224 121,220.6 L182,185.5 Q188,181.5 184,175" stroke="#22c4ec" stroke-width="1.3"/>
<path d="M75,193 L92,185" stroke="#22c4ec" stroke-width="0.8" stroke-dasharray="1 1" opacity="0.7"/>
<path d="M138,222.5 L171.4,202.6" stroke="#22c4ec" stroke-width="0.8" stroke-dasharray="1 1" opacity="0.7"/>
</g>
<rect x="92" y="220.4" width="7" height="3.4" rx="1" fill="#2ad0f0"/>
<rect x="94" y="221.3" width="2.6" height="1.6" fill="#f0fbff"/>
<!-- code panel -->
<polygon points="91.4,86.4 150,120.5 150,165 91.4,131" fill="#1f2735"/>
<path d="M91.8,131 V86.8 L136,112.5" stroke="#4a5366" stroke-width="1" fill="none"/>
<g stroke-width="1.1" stroke-linecap="round">
<path d="M96,94 l2.5,3 l-2,2 l2.5,3 l-2,2 l2.5,3 l-2,2 l2.5,3 l-2,2 l2.5,3 l-2,2 l2.5,3 l-2,2" stroke="#b4bccc" stroke-width="0.9" fill="none"/>
<path d="M103,100 l16,9.2" stroke="#d8283c"/>
<path d="M104,104 l4,2.3" stroke="#e8edf5"/>
<path d="M109,108 l14,8" stroke="#9ccc3c"/>
<path d="M104,110 l12,6.9" stroke="#e8c040"/>
<path d="M106,114 l18,10.3" stroke="#22a8a8"/>
<path d="M104,117 l4,2.3" stroke="#d8283c"/>
<path d="M104,121 l14,8" stroke="#9ccc3c"/>
<path d="M106,125 l10,5.7" stroke="#d8283c"/>
<path d="M104,128 l12,6.9" stroke="#e8c040"/>
<path d="M104,132 l14,8" stroke="#22a8a8"/>
</g>
<path d="M101.5,92 V135" stroke="#3a4456" stroke-width="0.8"/>
<!-- tiles -->
<g id="tiles">
<polygon points="135.2,99.8 146.2,106.0 146.2,114.2 135.2,108.0" fill="#d8283c"/>
<polygon points="146.2,106.0 157.2,112.2 157.2,120.4 146.2,114.2" fill="#20b5b0"/>
<polygon points="157.2,112.2 168.2,118.4 168.2,126.6 157.2,120.4" fill="#2aaee6"/>
<polygon points="168.2,118.4 179.2,124.6 179.2,132.8 168.2,126.6" fill="#eec03a"/>
<polygon points="179.2,124.6 190.2,130.8 190.2,139.0 179.2,132.8" fill="#7d8c9c"/>
<polygon points="135.2,108.0 146.2,114.2 146.2,122.4 135.2,116.2" fill="#1aa0a8"/>
<polygon points="146.2,114.2 157.2,120.4 157.2,128.6 146.2,122.4" fill="#2a5aa8"/>
<polygon points="157.2,120.4 168.2,126.6 168.2,134.8 157.2,128.6" fill="#7b3cc8"/>
<polygon points="168.2,126.6 179.2,132.8 179.2,141.0 168.2,134.8" fill="#a055c8"/>
<polygon points="179.2,132.8 190.2,139.0 190.2,147.2 179.2,141.0" fill="#1f9fa0"/>
<polygon points="135.2,116.2 146.2,122.4 146.2,130.6 135.2,124.4" fill="#506a8a"/>
<polygon points="146.2,122.4 157.2,128.6 157.2,136.8 146.2,130.6" fill="#e8784a"/>
<polygon points="157.2,128.6 168.2,134.8 168.2,143.0 157.2,136.8" fill="#d82a3c"/>
<polygon points="168.2,134.8 179.2,141.0 179.2,149.2 168.2,143.0" fill="#8a40c8"/>
<polygon points="179.2,141.0 190.2,147.2 190.2,155.4 179.2,149.2" fill="#22a89c"/>
<polygon points="135.2,124.4 146.2,130.6 146.2,138.8 135.2,132.6" fill="#3a6aa0"/>
<polygon points="146.2,130.6 157.2,136.8 157.2,145.0 146.2,138.8" fill="#c8604a"/>
<polygon points="157.2,136.8 168.2,143.0 168.2,151.2 157.2,145.0" fill="#9a48c0"/>
<polygon points="168.2,143.0 179.2,149.2 179.2,157.4 168.2,151.2" fill="#24b4d8"/>
<polygon points="179.2,149.2 190.2,155.4 190.2,163.6 179.2,157.4" fill="#e05a40"/>
<polygon points="135.2,99.8 190.2,130.8 190.2,163.6 135.2,132.6" fill="url(#dots)"/>
</g>
<!-- small left panels -->
<polygon points="102.4,139.6 119.6,149.8 89.3,167.6 70.8,156.9" fill="#1f2638"/>
<g stroke="#c8cde0" stroke-width="0.9" stroke-linecap="round" opacity="0.85">
<path d="M80,157 l17,-10 M83,160 l19,-11 M86,163 l18,-10.5"/>
</g>
<polygon points="58.3,147.5 68,142.5 71,144 61.3,149" fill="#f0f2f7"/>
<polygon points="61.3,149.2 71,144.2 77,147.8 67.5,153" fill="#262d3d"/>
<polygon points="75.6,144 80.5,141.4 84,143.6 79,146.2" fill="#f4f6fa"/>
<polygon points="81,139.5 91,134.3 93.5,135.8 86,141.6" fill="#d8dce8" opacity="0.8"/>
<!-- laptop lid -->
<polygon points="125.8,121.7 170.8,145.8 170.8,180.5 125.8,156.4" fill="#3b4250"/>
<polygon points="127,123.5 169.6,146.5 169.6,179.2 127,156.3" fill="#d5d9e2"/>
<polygon points="133.3,130.8 164.2,147.5 164.2,171.7 133.3,155.8" fill="#fbfcfe"/>
<polygon points="133.3,130.8 164.2,147.5 164.2,151.5 133.3,134.8" fill="#5bb8f2"/>
<g stroke="#c5cad6" stroke-width="0.5">
<path d="M133.3,139 l30.9,16.7 M133.3,143.5 l30.9,16.7 M133.3,148 l30.9,16.7 M133.3,152.3 l30.9,16.7"/>
<path d="M139.5,134 V159 M145.7,137.5 V162.5 M151.9,140.8 V165.5 M158,144 V168.8"/>
</g>
<g>
<circle cx="138" cy="160.5" r="0.9" fill="#f4c030"/><circle cx="140.5" cy="161.8" r="0.9" fill="#e8473c"/>
<circle cx="143" cy="163.2" r="0.9" fill="#3cb44a"/><circle cx="145.5" cy="164.5" r="0.9" fill="#e8473c"/>
<circle cx="148" cy="165.8" r="0.9" fill="#3a8de8"/><circle cx="150.5" cy="167.2" r="0.9" fill="#a050d0"/>
</g>
<!-- cyan floating panels -->
<polygon points="116.7,130.8 131.7,139 131.7,152.5 116.7,144.5" fill="#2bb8e6" opacity="0.85"/>
<circle cx="124.2" cy="141.6" r="3.5" fill="none" stroke="#d8f4ff" stroke-width="0.8"/>
<polygon points="165,145 179,153 179,161.7 165,154" fill="#2bb8e6" opacity="0.85"/>
<polygon points="165.8,161.7 182.5,170 179,175 165.8,168" fill="#2bb8e6" opacity="0.85"/>
<!-- laptop base -->
<polygon points="96.4,172.9 125,156.4 172.1,183.6 142.9,200" fill="#eceef3"/>
<polygon points="96.4,172.9 142.9,200 172.1,183.6 172.1,185 142.9,201.6 96.4,174.4" fill="#b8bdc9"/>
<polygon points="112.9,167.9 126.4,161.4 161.4,182.1 147.1,189.3" fill="#1e283e"/>
<g stroke="#3b4763" stroke-width="0.5"><path d="M116,169.5 l13,-6.5 M120,172 l13,-6.5 M124,174.5 l13,-6.5 M128,177 l13,-6.5 M132,179.3 l13,-6.5 M136,181.7 l13,-6.5 M140,184 l13,-6.5"/></g>
<polygon points="113.6,178.5 121,174.5 134.3,182.5 127,186.6" fill="#dadde5"/>
<!-- yellow pencil -->
<path d="M157.5,198.5 L168,193.5" stroke="#f2c21e" stroke-width="2.4" stroke-linecap="round"/>
<!-- person -->
<path d="M102.3,188.5 L102.3,210.8 L106.2,211.3 L107.6,194 L109.3,214.6 L113.6,215.2 L113.4,189 Z" fill="#1b2436"/><path d="M102,210 l4.5,1.2 M109,214 l4.8,1.3" stroke="#2b2f3a" stroke-width="1.2"/>
<path d="M101.5,176.5 Q104,173.6 108,174 Q112.5,174.6 113.3,177.5 L113.6,190.5 L102.2,190 Q101.2,183 101.5,176.5 Z" fill="#f26a2b"/>
<path d="M111.5,178 L113.8,193 L115.5,193" stroke="#f26a2b" stroke-width="2" fill="none"/>
<rect x="113.5" y="192.5" width="3" height="2.2" fill="#f3e6dc"/>
<ellipse cx="108.2" cy="170.4" rx="3.8" ry="3.4" fill="#3b2520"/>
</g>

<!-- datastore -->
<g id="datastore">
<polygon points="451.5,207 460,202.5 472,210.5 463.5,216" fill="#1b4f96" opacity="0.75"/>
<path d="M447.8,204.8 L468,219 M471,217 L487.5,207 L494,210.6 L512,200 M505,196 L522,186 L528,183" fill="none" stroke="#8a50d8" stroke-width="0.6" stroke-dasharray="1 1" opacity="0.85"/>
<!-- purple laptop -->
<polygon points="516.3,140.8 524,139.3 551.5,154.8 551.5,171 543,177 516.3,165" fill="#4a1b8e"/>
<polygon points="517.4,142.2 542,155.2 542,175.5 517.6,164.2" fill="#eeeaf6"/>
<polygon points="531,149.5 542,155.2 542,158.8 531,153.1" fill="#3cc6e6"/>
<polygon points="517.4,142.2 531,149.4 531,151 517.4,143.8" fill="#7a40c8"/>
<path d="M519,158.8 l21.5,11.6" stroke="#8a55d0" stroke-width="1.6" stroke-dasharray="4.5 1.8"/>
<polygon points="502,170.8 517.6,164.2 542.6,176.8 527,185.2" fill="#5a24a2"/>
<polygon points="502,170.8 527,185.2 542.6,176.8 542.6,178.2 527,186.6 502,172.2" fill="#3a1378"/>
<g fill="#8a5ad8" opacity="0.8"><circle cx="515" cy="172.5" r="0.6"/><circle cx="519" cy="174.8" r="0.6"/><circle cx="523" cy="177.1" r="0.6"/><circle cx="518.5" cy="170.5" r="0.6"/><circle cx="522.5" cy="172.8" r="0.6"/><circle cx="526.5" cy="175.1" r="0.6"/></g>
<path d="M470.5,178.0 L470.5,184.0 A7.7,3.6 0 0 0 485.9,184.0 L485.9,178.0 Z" fill="#f3ca7a"/>
<path d="M470.5,176.0 L470.5,178.0 A7.7,3.6 0 0 0 485.9,178.0 L485.9,176.0 Z" fill="#e2d6f8"/>
<path d="M470.5,174.0 L470.5,176.0 A7.7,3.6 0 0 0 485.9,176.0 L485.9,174.0 Z" fill="#f2c46e"/>
<path d="M470.5,171.0 L470.5,174.0 A7.7,3.6 0 0 0 485.9,174.0 L485.9,171.0 Z" fill="#d0bcf2"/>
<path d="M470.5,169.0 L470.5,171.0 A7.7,3.6 0 0 0 485.9,171.0 L485.9,169.0 Z" fill="#f2c46e"/>
<path d="M470.5,165.0 L470.5,169.0 A7.7,3.6 0 0 0 485.9,169.0 L485.9,165.0 Z" fill="#d0bcf2"/>
<ellipse cx="478.2" cy="165.0" rx="7.7" ry="3.6" fill="#e2d6f7"/>
<ellipse cx="478.2" cy="165.0" rx="4.2" ry="2.0" fill="none" stroke="#b79be6" stroke-width="0.6"/>
<ellipse cx="478.2" cy="165.0" rx="1.4" ry="0.8" fill="#5a2a90"/>
<path d="M485.2,189.5 L485.2,193.5 A7.8,3.7 0 0 0 500.8,193.5 L500.8,189.5 Z" fill="#e2d6f8"/>
<path d="M485.2,185.5 L485.2,189.5 A7.8,3.7 0 0 0 500.8,189.5 L500.8,185.5 Z" fill="#d0bcf2"/>
<path d="M485.2,183.5 L485.2,185.5 A7.8,3.7 0 0 0 500.8,185.5 L500.8,183.5 Z" fill="#2ec6e6"/>
<path d="M485.2,178.0 L485.2,183.5 A7.8,3.7 0 0 0 500.8,183.5 L500.8,178.0 Z" fill="#7d4bcb"/>
<path d="M485.2,175.0 L485.2,178.0 A7.8,3.7 0 0 0 500.8,178.0 L500.8,175.0 Z" fill="#e2d6f8"/>
<path d="M485.2,170.0 L485.2,175.0 A7.8,3.7 0 0 0 500.8,175.0 L500.8,170.0 Z" fill="#d0bcf2"/>
<ellipse cx="493.0" cy="170.0" rx="7.8" ry="3.7" fill="#e2d6f7"/>
<ellipse cx="493.0" cy="170.0" rx="4.3" ry="2.0" fill="none" stroke="#b79be6" stroke-width="0.6"/>
<ellipse cx="493.0" cy="170.0" rx="1.4" ry="0.8" fill="#5a2a90"/>
<path d="M499.9,196.5 L499.9,200.0 A8.1,3.9 0 0 0 516.1,200.0 L516.1,196.5 Z" fill="#e2d6f8"/>
<path d="M499.9,193.0 L499.9,196.5 A8.1,3.9 0 0 0 516.1,196.5 L516.1,193.0 Z" fill="#d0bcf2"/>
<path d="M499.9,187.5 L499.9,193.0 A8.1,3.9 0 0 0 516.1,193.0 L516.1,187.5 Z" fill="#7d4bcb"/>
<path d="M499.9,183.0 L499.9,187.5 A8.1,3.9 0 0 0 516.1,187.5 L516.1,183.0 Z" fill="#2ec6e6"/>
<path d="M499.9,178.0 L499.9,183.0 A8.1,3.9 0 0 0 516.1,183.0 L516.1,178.0 Z" fill="#d0bcf2"/>
<ellipse cx="508.0" cy="178.0" rx="8.1" ry="3.9" fill="#e2d6f7"/>
<ellipse cx="508.0" cy="178.0" rx="4.5" ry="2.1" fill="none" stroke="#b79be6" stroke-width="0.6"/>
<ellipse cx="508.0" cy="178.0" rx="1.4" ry="0.8" fill="#5a2a90"/>

<!--GEAR-->
<g transform="matrix(0.866,0.5,0,1,462.2,193.1)">
<path d="M11.30,-4.03 L11.70,-2.68 L14.99,-2.50 L14.99,2.50 L11.70,2.68 L11.30,4.03 L10.84,5.14 L10.16,6.38 L12.37,8.84 L8.84,12.37 L6.38,10.16 L5.14,10.84 L4.03,11.30 L2.68,11.70 L2.50,14.99 L-2.50,14.99 L-2.68,11.70 L-4.03,11.30 L-5.14,10.84 L-6.38,10.16 L-8.84,12.37 L-12.37,8.84 L-10.16,6.38 L-10.84,5.14 L-11.30,4.03 L-11.70,2.68 L-14.99,2.50 L-14.99,-2.50 L-11.70,-2.68 L-11.30,-4.03 L-10.84,-5.14 L-10.16,-6.38 L-12.37,-8.84 L-8.84,-12.37 L-6.38,-10.16 L-5.14,-10.84 L-4.03,-11.30 L-2.68,-11.70 L-2.50,-14.99 L2.50,-14.99 L2.68,-11.70 L4.03,-11.30 L5.14,-10.84 L6.38,-10.16 L8.84,-12.37 L12.37,-8.84 L10.16,-6.38 L10.84,-5.14 Z" fill="#a9aec0"/>
</g>
<g transform="matrix(0.866,0.5,0,1,460.2,194.2)">
<path d="M11.30,-4.03 L11.70,-2.68 L14.99,-2.50 L14.99,2.50 L11.70,2.68 L11.30,4.03 L10.84,5.14 L10.16,6.38 L12.37,8.84 L8.84,12.37 L6.38,10.16 L5.14,10.84 L4.03,11.30 L2.68,11.70 L2.50,14.99 L-2.50,14.99 L-2.68,11.70 L-4.03,11.30 L-5.14,10.84 L-6.38,10.16 L-8.84,12.37 L-12.37,8.84 L-10.16,6.38 L-10.84,5.14 L-11.30,4.03 L-11.70,2.68 L-14.99,2.50 L-14.99,-2.50 L-11.70,-2.68 L-11.30,-4.03 L-10.84,-5.14 L-10.16,-6.38 L-12.37,-8.84 L-8.84,-12.37 L-6.38,-10.16 L-5.14,-10.84 L-4.03,-11.30 L-2.68,-11.70 L-2.50,-14.99 L2.50,-14.99 L2.68,-11.70 L4.03,-11.30 L5.14,-10.84 L6.38,-10.16 L8.84,-12.37 L12.37,-8.84 L10.16,-6.38 L10.84,-5.14 Z" fill="#eceef4"/>
<circle r="9.4" fill="#d0d3de"/>
<circle r="8.5" fill="#8a4fd2"/>
<circle r="6.6" fill="#5cb8ee"/>
<ellipse cx="0" cy="0.5" rx="2.6" ry="3.8" fill="#f0c090"/>
<ellipse cx="0" cy="-2.6" rx="2.9" ry="1.8" fill="#5a2a3a"/>
<path d="M-4,5 Q0,2 4,5 L3,5.5 L-3,5.5Z" fill="#7a3bc8"/>
</g>
<!--/GEAR-->

</g>

</svg>
</body></html>
